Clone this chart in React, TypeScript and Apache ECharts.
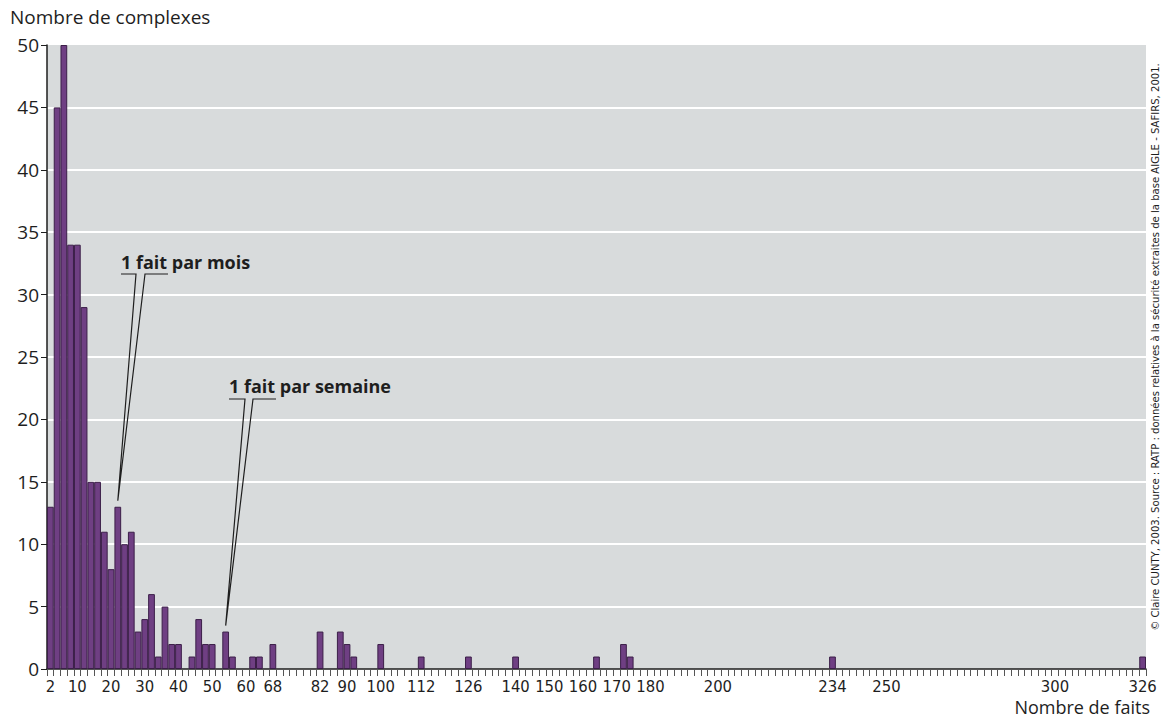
import React, { useEffect, useRef } from "react";
import * as echarts from "echarts";

// Histogram bins (number of incidents, bin centre) and number of complexes
const binValues = [2, 4, 6, 8, 10, 12, 14, 16, 18, 20, 22, 24, 26, 28, 30, 32, 34, 36, 38, 40, 44, 46, 48, 50, 54, 56, 62, 64, 68, 82, 88, 90, 92, 100, 112, 126, 140, 164, 172, 174, 234, 326];
const binCounts = [13, 45, 50, 34, 34, 29, 15, 15, 11, 8, 13, 10, 11, 3, 4, 6, 1, 5, 2, 2, 1, 4, 2, 2, 3, 1, 1, 1, 2, 3, 3, 2, 1, 2, 1, 1, 1, 1, 2, 1, 1, 1];

// Range of the category axis (every bin of width 2)
const binFirst = 2;
const binLast = 326;
const binStep = 2;

// Labelled x ticks
const xTickLabels = ["2", "10", "20", "30", "40", "50", "60", "68", "82", "90", "100", "112", "126", "140", "150", "160", "170", "180", "200", "234", "250", "300", "326"];

// Y axis
const yMin = 0;
const yMax = 50;
const yStep = 5;

// Annotations
const annotationTexts = ["1 fait par mois", "1 fait par semaine"];
const annotationBins = [22, 54];

const titleText = "Nombre de complexes";
const xNameText = "Nombre de faits";
const sourceText = "© Claire CUNTY, 2003. Source : RATP : données relatives à la sécurité extraites de la base AIGLE - SAFIRS, 2001.";

const MAIN_FONT = "'Open Sans', 'Noto Sans', sans-serif";
const NARROW_FONT = "'Liberation Sans Narrow', 'DejaVu Sans Condensed', 'Open Sans', sans-serif";

export default function App() {
  const ref = useRef<HTMLDivElement>(null);

  useEffect(() => {
    if (!ref.current) return;
    const chart = echarts.init(ref.current, null, { renderer: "svg" });

    const categories: string[] = [];
    for (let v = binFirst; v <= binLast; v += binStep) categories.push(String(v));
    const countMap = new Map<string, number>();
    binValues.forEach((b, i) => countMap.set(String(b), binCounts[i]));
    const seriesData = categories.map((c) => (countMap.has(c) ? countMap.get(c) : "-"));
    const labelSet = new Set(xTickLabels);

    chart.setOption({
      animation: false,
      grid: {
        left: 47,
        right: 18,
        top: 45,
        bottom: 51,
        show: true,
        backgroundColor: "#d8dbdc",
        borderWidth: 0,
        containLabel: false,
      },
      xAxis: {
        type: "category",
        data: categories,
        boundaryGap: true,
        axisLine: { show: true, lineStyle: { color: "#1e1e1e", width: 1.5 } },
        axisTick: { show: true, interval: 0, length: 7, lineStyle: { color: "#555", width: 1 } },
        axisLabel: {
          interval: (_i: number, v: string) => labelSet.has(v),
          color: "#1e1e1e",
          fontFamily: NARROW_FONT,
          fontSize: 16.5,
          margin: 9,
        },
        splitLine: { show: false },
      },
      yAxis: {
        type: "value",
        min: yMin,
        max: yMax,
        interval: yStep,
        axisLine: { show: true, lineStyle: { color: "#1e1e1e", width: 1.5 } },
        axisTick: { show: true, length: 6, lineStyle: { color: "#1e1e1e" } },
        axisLabel: { color: "#1e1e1e", fontFamily: MAIN_FONT, fontSize: 19, margin: 8 },
        splitLine: { show: true, showMinLine: false, showMaxLine: false, lineStyle: { color: "#ffffff", width: 2 } },
      },
      series: [
        {
          type: "bar",
          data: seriesData,
          barCategoryGap: "0%",
          barGap: "0%",
          itemStyle: { color: "#6f3f83", borderColor: "#3b1e48", borderWidth: 1 },
        },
      ],
    });

    // Annotation layout (text position in pixels)
    const annLayout = [
      { x: 121, y: 262, notchL: 15, notchR: 24, lineEnd: 47, lineDy: 12 },
      { x: 229, y: 386, notchL: 16, notchR: 24, lineEnd: 47, lineDy: 13 },
    ];

    const graphics: any[] = [
      {
        type: "text",
        left: 10,
        top: 7,
        style: { text: titleText, fill: "#1e1e1e", font: `19px ${MAIN_FONT}` },
      },
      {
        type: "text",
        x: 1150,
        y: 707,
        style: { text: xNameText, fill: "#1e1e1e", font: `18px ${MAIN_FONT}`, align: "right", verticalAlign: "middle" },
      },
      {
        type: "text",
        x: 1155,
        y: 347,
        rotation: Math.PI / 2,
        style: { text: sourceText, fill: "#1e1e1e", font: `11.2px ${NARROW_FONT}`, align: "center", verticalAlign: "middle" },
      },
    ];

    annotationTexts.forEach((t, i) => {
      const bin = String(annotationBins[i]);
      const count = countMap.get(bin) ?? 0;
      const tip = chart.convertToPixel({ seriesIndex: 0 }, [bin, count]) as number[];
      const L = annLayout[i];
      const ly = L.y + L.lineDy;
      graphics.push({
        type: "text",
        x: L.x,
        y: L.y,
        style: { text: t, fill: "#1e1e1e", font: `bold 18px ${MAIN_FONT}`, align: "left", verticalAlign: "middle" },
      });
      graphics.push({
        type: "polyline",
        shape: {
          points: [
            [L.x, ly],
            [L.x + L.notchL, ly],
            [tip[0], tip[1] - 6],
            [L.x + L.notchR, ly],
            [L.x + L.lineEnd, ly],
          ],
        },
        style: { stroke: "#1e1e1e", lineWidth: 1.2, fill: null },
      });
    });

    chart.setOption({ graphic: graphics });

    return () => chart.dispose();
  }, []);

  return (
    <div
      ref={ref}
      style={{ position: "absolute", left: 0, top: 0, width: 1164, height: 720, background: "#ffffff" }}
    />
  );
}
